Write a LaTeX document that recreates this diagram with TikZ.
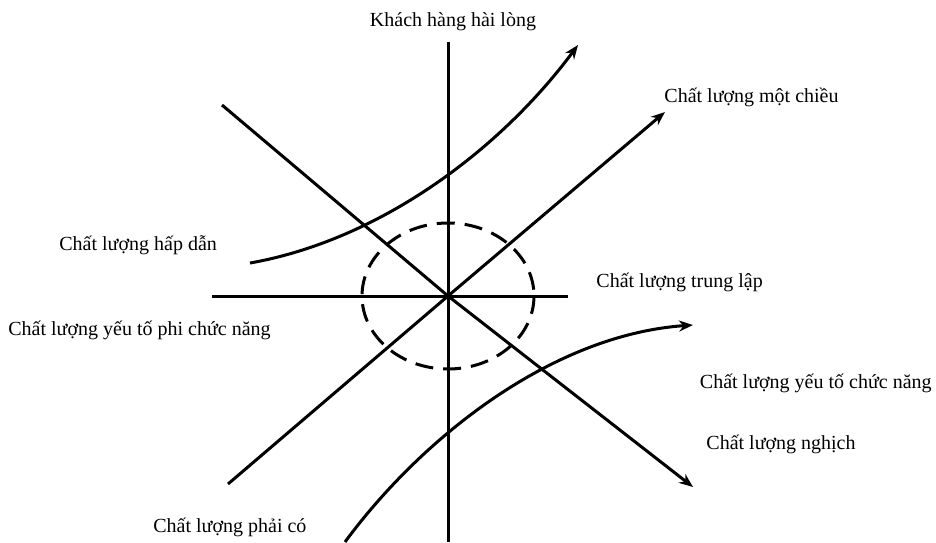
\documentclass[tikz,border=0pt]{standalone}
\usepackage{fontspec}
\setmainfont{Liberation Serif}
\usepackage{tikz}
\usetikzlibrary{
	arrows.meta,
	positioning,
	calc
}
\usepackage{xcolor}

\begin{document}
\begin{tikzpicture}[
		x=0.5pt, y=-0.5pt,
		>={Stealth[length=7pt,width=5.5pt]},
		axis/.style={
			line width=1.5pt
		},
		quality/.style={
			line width=1.5pt,
			->
		},
		lbl/.style={
			font=\fontsize{10}{12}\selectfont,
			inner sep=1pt
		}
		]
		\useasboundingbox (0,0) rectangle (936,542);
		
		% Origin and ends
		\coordinate (O) at (448,296);
		\coordinate (top) at (448,42);
		\coordinate (bottom) at (448,542);
		\coordinate (left) at (212,296);
		\coordinate (right) at (568,296);
		\coordinate (nw) at (222,105);
		\coordinate (se) at (693,487);
		\coordinate (sw) at (228,484);
		\coordinate (ne) at (665,112);
		\coordinate (att0) at (250,263);
		\coordinate (att1) at (578,45);
		\coordinate (fun0) at (345,542);
		\coordinate (fun1) at (693,325);
		
		% Axes
		\draw[axis] (bottom) -- (top);
		\draw[axis] (left) -- (right);
		
		% Neutral zone
		\draw[line width=1.5pt, dash pattern=on 9pt off 5pt] (O) ellipse [x radius=86, y radius=73];
		
		% Diagonals
		\draw[quality] (nw) -- (O) -- (se);
		\draw[quality] (sw) -- (O) -- (ne);
		
		% Curves
		\draw[quality] (att0) .. controls (380,240) and (500,150) .. (att1);
		\draw[quality] (fun0) .. controls (420,440) and (550,335) .. (fun1);
		
		% Labels
		\node[lbl] (sat) at (453,22) {Khách hàng hài lòng};
		\node[lbl, anchor=west] (one) at (662,97) {Chất lượng một chiều};
		\node[lbl, anchor=west] (attr) at (57,245) {Chất lượng hấp dẫn};
		\node[lbl, anchor=west] (neut) at (594,282) {Chất lượng trung lập};
		\node[lbl, anchor=west] (nonf) at (6,330) {Chất lượng yếu tố phi chức năng};
		\node[lbl, anchor=east] (func) at (934,383) {Chất lượng yếu tố chức năng};
		\node[lbl, anchor=west] (rev) at (704,444) {Chất lượng nghịch};
		\node[lbl, anchor=west] (must) at (151,527) {Chất lượng phải có};
		
	\end{tikzpicture}
\end{document}
